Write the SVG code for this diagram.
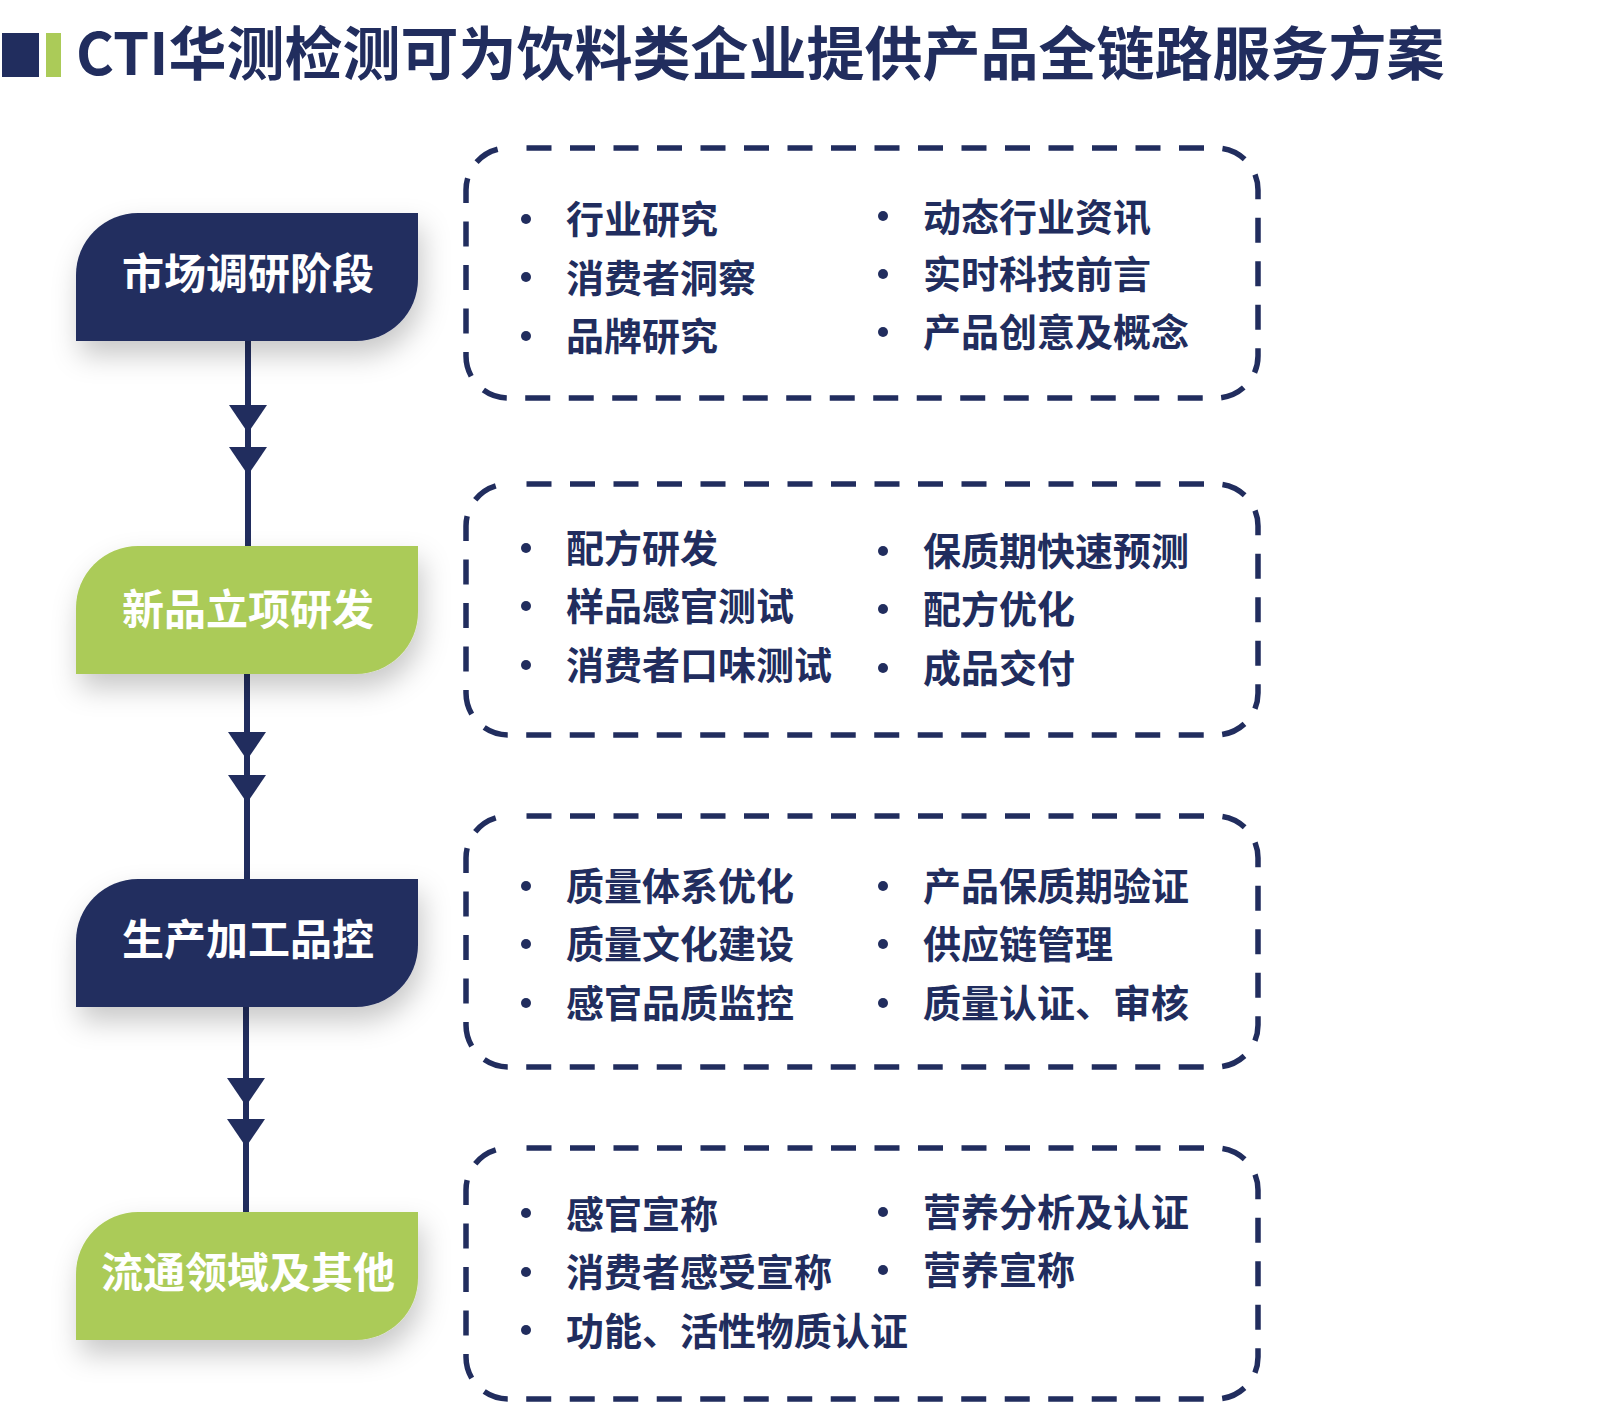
<svg xmlns="http://www.w3.org/2000/svg" width="1600" height="1416" viewBox="0 0 1600 1416">
<defs>
<style>
.title{font-family:"Noto Sans CJK SC","Noto Sans",sans-serif;font-weight:700;font-size:58px;fill:#212d5e}
.nt{font-family:"Noto Sans CJK SC","Noto Sans",sans-serif;font-weight:700;font-size:42px;fill:#ffffff;text-anchor:middle}
.it{font-family:"Noto Sans CJK SC","Noto Sans",sans-serif;font-weight:700;font-size:38px;fill:#212d5e}
.box{fill:none;stroke:#212d5e;stroke-width:5.5;stroke-dasharray:25 18.5;stroke-dashoffset:25}
.navy{fill:#212d5e}
.green{fill:#abcb58}
.line{stroke:#212d5e;stroke-width:6;fill:none}
</style>
<filter id="sh" x="-20%" y="-20%" width="150%" height="170%">
<feDropShadow dx="4" dy="14" stdDeviation="14" flood-color="#000" flood-opacity="0.22"/>
</filter>
<path id="nodeShape" d="M76,128 L76,62 A62,62 0 0 1 138,0 L418,0 L418,66 A62,62 0 0 1 356,128 Z"/>
<path id="ah" d="M229,0 L267,0 L248,28 Z"/>
<circle id="dot" r="5"/>
</defs>
<rect width="1600" height="1416" fill="#ffffff"/>

<g id="title">
<rect x="2" y="33" width="37" height="44" class="navy"/>
<rect x="46" y="33" width="15" height="44" class="green"/>
<text x="76" y="75" class="title">CTI华测检测可为饮料类企业提供产品全链路服务方案</text>
</g>

<g id="connectors">
<line x1="248" y1="341" x2="248" y2="546" class="line"/>
<use href="#ah" y="405" class="navy"/>
<use href="#ah" y="447" class="navy"/>
<line x1="247" y1="673" x2="247" y2="879" class="line"/>
<use href="#ah" x="-1" y="732" class="navy"/>
<use href="#ah" x="-1" y="775" class="navy"/>
<line x1="246" y1="1006" x2="246" y2="1212" class="line"/>
<use href="#ah" x="-2" y="1078" class="navy"/>
<use href="#ah" x="-2" y="1119" class="navy"/>
</g>

<g id="node1" transform="translate(0,213)">
<use href="#nodeShape" class="navy" filter="url(#sh)"/>
<text x="248" y="76" class="nt">市场调研阶段</text>
</g>
<g id="node2" transform="translate(0,546)">
<use href="#nodeShape" class="green" filter="url(#sh)"/>
<text x="248" y="79" class="nt">新品立项研发</text>
</g>
<g id="node3" transform="translate(0,879)">
<use href="#nodeShape" class="navy" filter="url(#sh)"/>
<text x="248" y="76" class="nt">生产加工品控</text>
</g>
<g id="node4" transform="translate(0,1212)">
<use href="#nodeShape" class="green" filter="url(#sh)"/>
<text x="248" y="76" class="nt">流通领域及其他</text>
</g>

<g id="box1">
<rect x="466" y="148" width="792" height="250" rx="42" class="box"/>
<g class="navy">
<use href="#dot" x="526" y="219"/><use href="#dot" x="526" y="277"/><use href="#dot" x="526" y="336"/>
<use href="#dot" x="883" y="216"/><use href="#dot" x="883" y="274"/><use href="#dot" x="883" y="332"/>
</g>
<text x="566" y="233" class="it">行业研究</text>
<text x="566" y="292" class="it">消费者洞察</text>
<text x="566" y="350" class="it">品牌研究</text>
<text x="923" y="231" class="it">动态行业资讯</text>
<text x="923" y="288" class="it">实时科技前言</text>
<text x="923" y="346" class="it">产品创意及概念</text>
</g>

<g id="box2">
<rect x="466" y="484" width="792" height="251" rx="42" class="box"/>
<g class="navy">
<use href="#dot" x="526" y="548"/><use href="#dot" x="526" y="606"/><use href="#dot" x="526" y="665"/>
<use href="#dot" x="883" y="551"/><use href="#dot" x="883" y="609"/><use href="#dot" x="883" y="668"/>
</g>
<text x="566" y="562" class="it">配方研发</text>
<text x="566" y="620" class="it">样品感官测试</text>
<text x="566" y="679" class="it">消费者口味测试</text>
<text x="923" y="565" class="it">保质期快速预测</text>
<text x="923" y="623" class="it">配方优化</text>
<text x="923" y="682" class="it">成品交付</text>
</g>

<g id="box3">
<rect x="466" y="816" width="792" height="251" rx="42" class="box"/>
<g class="navy">
<use href="#dot" x="526" y="886"/><use href="#dot" x="526" y="944"/><use href="#dot" x="526" y="1003"/>
<use href="#dot" x="883" y="886"/><use href="#dot" x="883" y="944"/><use href="#dot" x="883" y="1003"/>
</g>
<text x="566" y="900" class="it">质量体系优化</text>
<text x="566" y="958" class="it">质量文化建设</text>
<text x="566" y="1017" class="it">感官品质监控</text>
<text x="923" y="900" class="it">产品保质期验证</text>
<text x="923" y="958" class="it">供应链管理</text>
<text x="923" y="1017" class="it">质量认证、审核</text>
</g>

<g id="box4">
<rect x="466" y="1148" width="792" height="251" rx="42" class="box"/>
<g class="navy">
<use href="#dot" x="526" y="1213"/><use href="#dot" x="526" y="1272"/><use href="#dot" x="526" y="1330"/>
<use href="#dot" x="883" y="1212"/><use href="#dot" x="883" y="1270"/>
</g>
<text x="566" y="1228" class="it">感官宣称</text>
<text x="566" y="1286" class="it">消费者感受宣称</text>
<text x="566" y="1345" class="it">功能、活性物质认证</text>
<text x="923" y="1226" class="it">营养分析及认证</text>
<text x="923" y="1284" class="it">营养宣称</text>
</g>
</svg>
